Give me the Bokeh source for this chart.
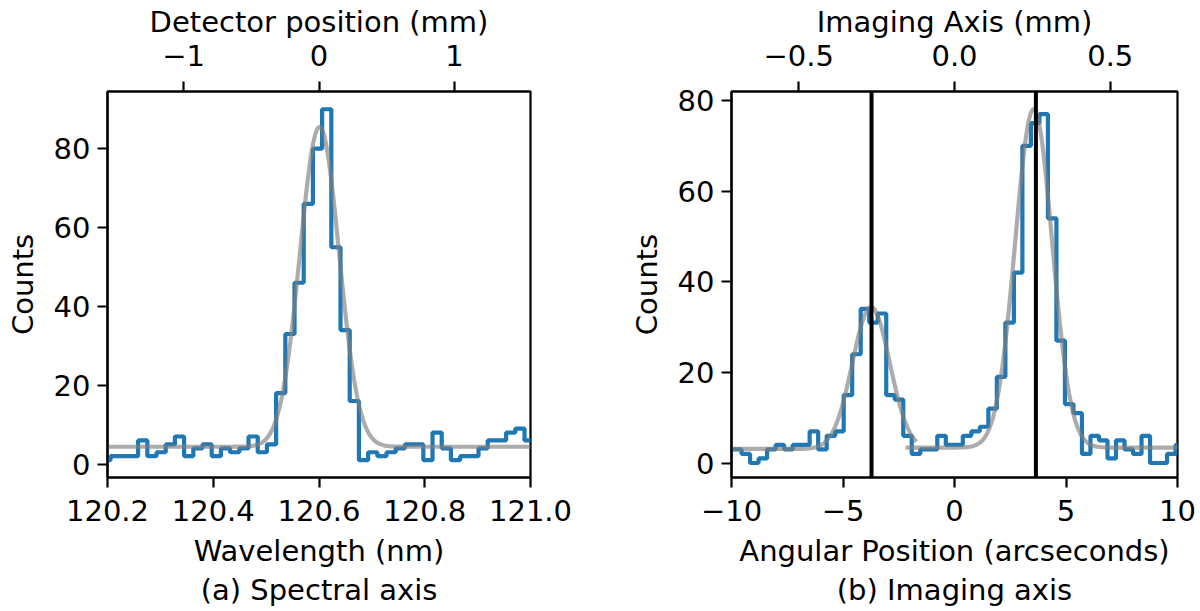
import numpy as np
from bokeh.plotting import figure
from bokeh.models import Range1d, LinearAxis, FixedTicker, CustomJSTickFormatter, Span, Title
from bokeh.layouts import row
from bokeh.embed import file_html
from bokeh.resources import INLINE

# ---------------- data: (a) spectral axis ----------------
spec_edge0 = 120.1883      # nm, left edge of first detector bin
spec_bin = 0.0174          # nm per detector bin
spec_counts = [1, 2, 2, 2, 6, 2, 3, 5, 7, 2, 4, 5, 2, 4, 3, 4, 7, 3, 5, 18, 33, 46,
               66, 80, 90, 55, 34, 16, 1, 3, 2, 3, 4, 5, 5, 1, 8, 4, 1, 2, 2, 4,
               6, 6, 8, 9, 6]
spec_fit = dict(amp=81.1, mu=120.601, sigma=0.037, offset=4.4, lo=120.2, hi=121.0)
spec_xticks = [120.2, 120.4, 120.6, 120.8, 121.0]
spec_topticks = [-1, 0, 1]
nm_zero = 120.6            # nm at 0 mm
nm_per_mm = 0.2561

# ---------------- data: (b) imaging axis ----------------
img_edge0 = -9.93          # arcsec, left edge of first bin
img_bin = 0.3816           # arcsec per bin
img_counts = [3, 2, 0, 1, 3, 4, 3, 4, 4, 7, 3, 6, 7, 15, 24, 34, 31, 33, 15, 14, 6,
              2, 3, 3, 6, 4, 4, 6, 7, 8, 12, 19, 31, 42, 70, 75, 77, 54, 27, 13,
              11, 2, 6, 5, 1, 5, 3, 2, 6, 0, 0, 2, 4]
img_fit_left = dict(amp=31.3, mu=-3.74, sigma=0.84, offset=3.1, lo=-10.0, hi=-1.7)
img_fit_right = dict(amp=74.7, mu=3.55, sigma=0.83, offset=3.4, lo=-2.2, hi=10.0)
img_markers = [-3.72, 3.65]
img_xticks = [-10, -5, 0, 5, 10]
img_topticks = [-0.5, 0.0, 0.5]
arcsec_per_mm = 13.97

y_ticks = [0, 20, 40, 60, 80]

FONT = "DejaVu Sans"
FS = "29px"
BLUE = "#1f77b4"


def fmt(d):
    return CustomJSTickFormatter(args=dict(d=d),
                                 code="return tick.toFixed(d).replace('-', '\u2212');")


def style_axis(ax, ticks, d, lab_standoff, title_standoff):
    ax.ticker = FixedTicker(ticks=ticks)
    ax.formatter = fmt(d)
    ax.minor_tick_line_color = None
    ax.major_tick_out = 10
    ax.major_tick_in = 0
    ax.major_tick_line_width = 2.2
    ax.major_tick_line_color = "black"
    ax.axis_line_width = 2.2
    ax.axis_line_color = "black"
    ax.major_label_text_font = FONT
    ax.major_label_text_font_size = FS
    ax.major_label_text_color = "black"
    ax.major_label_standoff = lab_standoff
    ax.axis_label_text_font = FONT
    ax.axis_label_text_font_size = FS
    ax.axis_label_text_font_style = "normal"
    ax.axis_label_text_color = "black"
    ax.axis_label_standoff = title_standoff


def gauss(f, n=600):
    x = np.linspace(f["lo"], f["hi"], n)
    y = f["offset"] + f["amp"] * np.exp(-0.5 * ((x - f["mu"]) / f["sigma"]) ** 2)
    return x, y


def make_panel(xr, yr, top_rng, fw, bl, br, xticks, xd, topticks, topd,
               xlabel, toplabel, caption):
    p = figure(frame_width=fw, frame_height=386, x_range=Range1d(*xr), y_range=Range1d(*yr),
               output_backend="svg", toolbar_location=None,
               x_axis_type=None, y_axis_type=None,
               min_border_left=bl, min_border_right=br, min_border_top=91, min_border_bottom=134)
    p.background_fill_color = "white"
    p.border_fill_color = "white"
    p.outline_line_color = "black"
    p.outline_line_width = 2.2
    p.outline_line_alpha = 1.0
    p.extra_x_ranges = {"top": Range1d(*top_rng)}

    bottom = LinearAxis(axis_label=xlabel)
    style_axis(bottom, xticks, xd, 12, 10)
    p.add_layout(bottom, "below")

    top = LinearAxis(x_range_name="top", axis_label=toplabel)
    style_axis(top, topticks, topd, 16, 3)
    p.add_layout(top, "above")

    left = LinearAxis(axis_label="Counts")
    style_axis(left, y_ticks, 0, 7, 11)
    p.add_layout(left, "left")

    p.xgrid.ticker = FixedTicker(ticks=xticks)
    p.ygrid.ticker = FixedTicker(ticks=y_ticks)
    p.grid.grid_line_color = "#b0b0b0"
    p.grid.grid_line_width = 2.2
    cap = Title(text=caption, align="center", text_font=FONT, text_font_size=FS,
                text_font_style="normal", text_color="black", standoff=0)
    p.add_layout(cap, "below")
    return p


# ---- panel (a)
pa = make_panel((120.2, 121.0), (-3.4, 94.5),
                ((120.2 - nm_zero) / nm_per_mm, (121.0 - nm_zero) / nm_per_mm),
                423, 107, 70, spec_xticks, 1, spec_topticks, 0,
                "Wavelength (nm)", "Detector position (mm)", "(a) Spectral axis")
sx = spec_edge0 + spec_bin * np.arange(len(spec_counts) + 1)
sy = spec_counts + [spec_counts[-1]]
pa.step(sx, sy, mode="after", line_color=BLUE, line_width=4.2)
gx, gy = gauss(spec_fit)
pa.line(gx, gy, line_color="gray", line_alpha=0.65, line_width=4.2)

# ---- panel (b)
pb = make_panel((-10, 10), (-3.2, 82.0),
                (-10 / arcsec_per_mm, 10 / arcsec_per_mm),
                446, 131, 23, img_xticks, 0, img_topticks, 1,
                "Angular Position (arcseconds)", "Imaging Axis (mm)", "(b) Imaging axis")
ix = img_edge0 + img_bin * np.arange(len(img_counts) + 1)
iy = img_counts + [img_counts[-1]]
pb.step(ix, iy, mode="after", line_color=BLUE, line_width=4.2)
for f in (img_fit_left, img_fit_right):
    gx, gy = gauss(f)
    pb.line(gx, gy, line_color="gray", line_alpha=0.65, line_width=4.2)
for m in img_markers:
    pb.add_layout(Span(location=m, dimension="height", line_color="black", line_width=4))

layout = row(pa, pb)
open("out.html", "w").write(file_html(layout, INLINE))
